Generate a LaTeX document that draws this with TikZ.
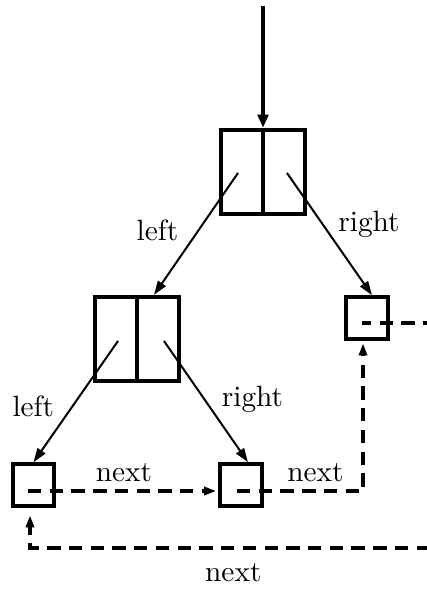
\documentclass[tikz,border=0pt]{standalone}
\usepackage{graphicx}
\usetikzlibrary{arrows.meta,calc}

% labels: 10pt design size, enlarged
\newcommand{\lbl}[1]{\scalebox{2.2}{#1}}

\tikzset{
  cell/.style={draw, line width=3.2pt, inner sep=0pt, minimum width=63.5pt, minimum height=63pt},
  leaf/.style={draw, line width=3.2pt, inner sep=0pt, minimum width=31pt, minimum height=31pt},
  ptr/.style={line width=1.5pt, -{Triangle[length=10.5pt,width=7pt]}},
  inptr/.style={line width=3pt, -{Triangle[length=10pt,width=8pt]}},
  nextptr/.style={line width=3.4pt, dash pattern=on 10pt off 6.3pt, miter limit=10,
                  -{Triangle[length=9pt,width=6pt]}},
  nextline/.style={line width=3.4pt, dash pattern=on 10pt off 6.3pt},
  tag/.style={inner sep=0pt, anchor=base},
}

\begin{document}
\begin{tikzpicture}[x=0.75pt, y=-0.75pt]
  \useasboundingbox (0,0) rectangle (427,590);

  % tree nodes
  \node[cell] (root) at (263,172) {};
  \node[cell] (mid)  at (137,339) {};
  \node[leaf] (rl)   at (367,318) {};
  \node[leaf] (ll)   at (33.5,485) {};
  \node[leaf] (ml)   at (241,485) {};

  % dividers of the two-field nodes
  \draw[line width=3.2pt] (root.north) -- (root.south);
  \draw[line width=3.2pt] (mid.north) -- (mid.south);

  % entry pointer
  \coordinate (entry) at (263,6);
  \draw[inptr] (entry) -- (root.north);

  % child pointers
  \coordinate (rootL) at ($(root.center)+(-25,1)$);
  \coordinate (rootR) at ($(root.center)+(24,1)$);
  \coordinate (midL)  at ($(mid.center)+(-19,2)$);
  \coordinate (midR)  at ($(mid.center)+(27,2)$);
  \draw[ptr] (rootL) -- ($(mid.north)+(17,0)$);
  \draw[ptr] (rootR) -- ($(rl.north)+(5,0)$);
  \draw[ptr] (midL) -- (ll.north);
  \draw[ptr] (midR) -- ($(ml.north)+(7,0)$);

  \node[tag] (t1) at (157.5,240.7) {\lbl{left}};
  \node[tag] (t2) at (369,231)     {\lbl{right}};
  \node[tag] (t3) at (33.3,416.7)  {\lbl{left}};
  \node[tag] (t4) at (252.5,406)   {\lbl{right}};

  % leaf chain
  \coordinate (llS) at ($(ll.center)+(-5.5,6)$);
  \coordinate (mlS) at ($(ml.center)+(-4,6)$);
  \coordinate (rlS) at ($(rl.center)+(-5,5)$);
  \coordinate (mlIn) at ($(ml.west)+(-2,6)$);
  \coordinate (rlIn) at ($(rl.south)+(-4,2.5)$);
  \coordinate (llIn) at ($(ll.south)+(-3.5,7.5)$);
  \coordinate (out)  at (440,323);
  \coordinate (back) at (430,548);

  \draw[nextptr] (llS) -- (mlIn);
  \draw[nextptr] (mlS) -- (mlS -| rlIn) -- (rlIn);
  \draw[nextline, dash phase=3pt] (rlS) -- (out);
  \draw[nextptr] (back) -- (back -| llIn) -- (llIn);

  \node[tag] (n1) at (124,481)     {\lbl{next}};
  \node[tag] (n2) at (315.5,481)   {\lbl{next}};
  \node[tag] (n3) at (233.3,581.7) {\lbl{next}};
\end{tikzpicture}
\end{document}
